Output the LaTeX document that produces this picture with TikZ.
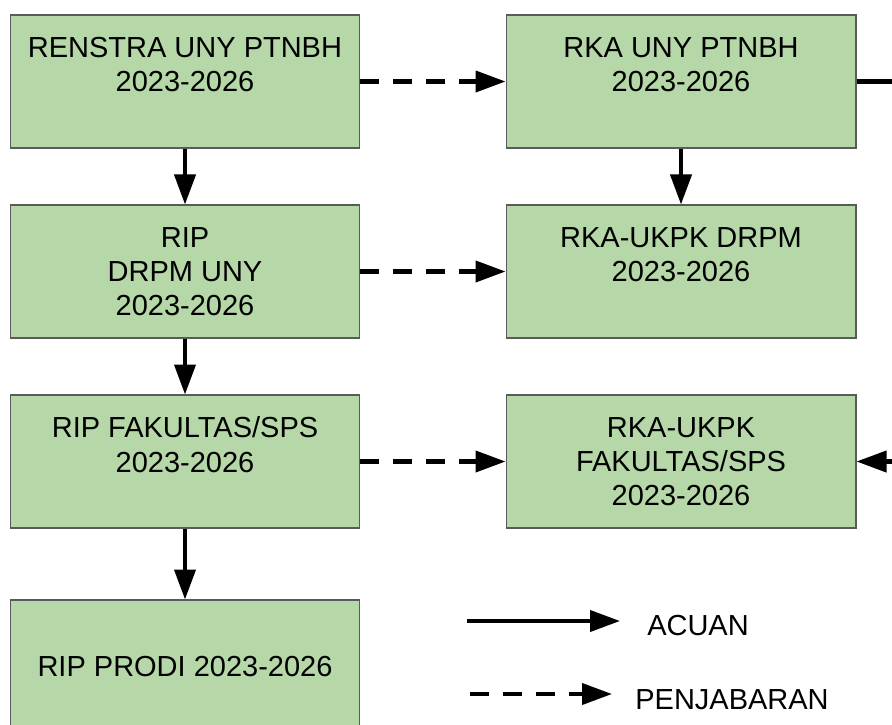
\documentclass[tikz,border=0pt]{standalone}
\usepackage{fontspec}
\setmainfont{Liberation Sans}
\usepackage{tikz}
\usetikzlibrary{arrows.meta,positioning}
\definecolor{boxgreen}{HTML}{B6D7A8}
\definecolor{boxline}{HTML}{5A5A5A}

\begin{document}
\begin{tikzpicture}[x=0.02cm,y=-0.02cm,
  blok/.style={draw=boxline,line width=0.6pt,fill=boxgreen,minimum width=7cm,minimum height=2.66cm,align=center,inner sep=0pt,font=\fontsize{16.5}{19.4}\selectfont},
  acuan/.style={line width=2.3pt,-{Triangle[length=0.6cm,width=0.42cm]}},
  jabar/.style={acuan,dash pattern=on 10.8pt off 7.9pt},
  ket/.style={font=\fontsize{16.5}{19.4}\selectfont}]
            \useasboundingbox (0,0) rectangle (892,724);
            \clip (0,0) rectangle (892,724);
            % kolom kiri
            \node[blok] (a1) at (185,81.5) {RENSTRA UNY PTNBH\\2023-2026\\~};
            \node[blok] (a2) at (185,271.5) {RIP\\DRPM UNY\\2023-2026};
            \node[blok] (a3) at (185,461.5) {RIP FAKULTAS/SPS\\2023-2026\\~};
            \node[blok] (a4) at (185,666.5) {RIP PRODI 2023-2026};
            % kolom kanan
            \node[blok] (b1) at (681,81.5) {RKA UNY PTNBH\\2023-2026\\~};
            \node[blok] (b2) at (681,271.5) {RKA-UKPK DRPM\\2023-2026\\~};
            \node[blok] (b3) at (681,461.5) {RKA-UKPK\\FAKULTAS/SPS\\2023-2026};

            \draw[acuan] (a1) -- (a2);
            \draw[acuan] (a2) -- (a3);
            \draw[acuan] (a3) -- (a4);
            \draw[acuan] (b1) -- (b2);
            \draw[jabar] (a1) -- (b1);
            \draw[jabar] (a2) -- (b2);
            \draw[jabar] (a3) -- (b3);
            \draw[acuan] (b1.east) -- ++(80,0) |- (b3.east);

            % keterangan
            \coordinate (k1) at (467,621);
            \coordinate (k2) at (620,621);
            \coordinate (k3) at (470,694);
            \coordinate (k4) at (612,694);
            \draw[acuan] (k1) -- (k2);
            \draw[jabar] (k3) -- (k4);
            \node[ket] (acu) at (698,626) {ACUAN};
            \node[ket] (pen) at (732,700) {PENJABARAN};
          \end{tikzpicture}
\end{document}
